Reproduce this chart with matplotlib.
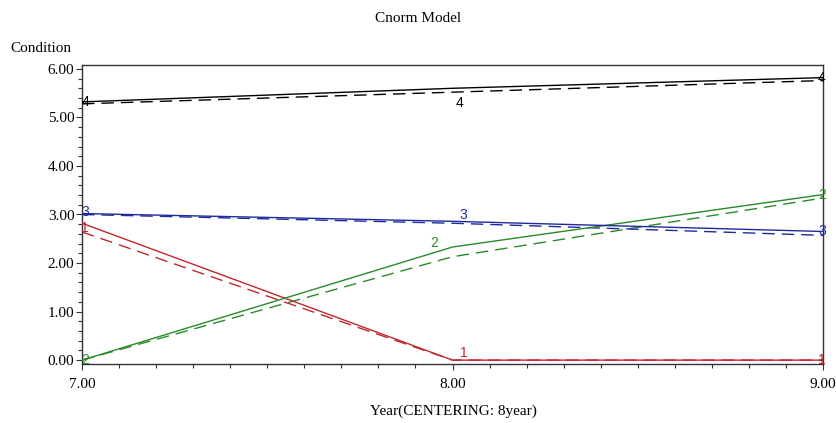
import matplotlib
matplotlib.use("Agg")
import matplotlib.pyplot as plt
from matplotlib.ticker import MultipleLocator, FormatStrFormatter

years = [7.0, 8.0, 9.0]
series_names = ["1", "2", "3", "4"]
observed = {
    "1": [2.82, 0.0, 0.0],
    "2": [0.0, 2.33, 3.41],
    "3": [3.02, 2.86, 2.65],
    "4": [5.32, 5.60, 5.82],
}
predicted = {
    "1": [2.64, 0.0, 0.0],
    "2": [0.0, 2.13, 3.34],
    "3": [3.00, 2.82, 2.57],
    "4": [5.28, 5.52, 5.76],
}
# label positions at the middle year
mid_label_x = {"1": 8.03, "2": 7.95, "3": 8.03, "4": 8.02}
mid_label_y = {"1": 0.15, "2": 2.42, "3": 3.00, "4": 5.30}
colors = {"1": "#c0272d", "2": "#2a8a2a", "3": "#1f2a9e", "4": "#000000"}

title = "Cnorm Model"
ylabel = "Condition"
xlabel = "Year(CENTERING: 8year)"

plt.rcParams['font.family'] = ['Liberation Serif', 'DejaVu Serif']

fig = plt.figure(figsize=(8.36, 4.23), dpi=100)
ax = fig.add_axes([82/836, 1-364/423, (823-82)/836, (364-65)/423])

# small vertical pixel nudges for the start labels
start_dy = {"1": -5, "2": 0, "3": 2, "4": 0}

for s in series_names:
    c = colors[s]
    ax.plot(years, observed[s], color=c, lw=1.0, zorder=3)
    ax.plot(years, predicted[s], color=c, lw=1.0, ls=(0, (9, 5)), zorder=2)
    lab_kw = dict(color=c, fontsize=10, family=['Liberation Sans Narrow', 'Liberation Sans', 'DejaVu Sans'],
                  ha='center', va='center', zorder=4, annotation_clip=False)
    ax.annotate(s, (years[0], observed[s][0]), xytext=(3, start_dy[s]), textcoords='offset pixels', **lab_kw)
    ax.annotate(s, (mid_label_x[s], mid_label_y[s]), **lab_kw)
    ax.annotate(s, (years[2], observed[s][2]), xytext=(-1, 0), textcoords='offset pixels', **lab_kw)

ax.set_xlim(7.0, 9.0)
ax.set_ylim(-0.08, 6.08)
ax.xaxis.set_major_locator(MultipleLocator(1.0))
ax.xaxis.set_minor_locator(MultipleLocator(0.1))
ax.yaxis.set_major_locator(MultipleLocator(1.0))
ax.yaxis.set_minor_locator(MultipleLocator(0.2))
ax.xaxis.set_major_formatter(FormatStrFormatter('%.2f'))
ax.yaxis.set_major_formatter(FormatStrFormatter('%.2f'))
ax.tick_params(which='major', direction='out', length=4, width=0.8, labelsize=11, color='#333333')
ax.tick_params(which='minor', direction='out', length=3, width=0.8, color='#333333')
ax.tick_params(axis='y', pad=1.5)
ax.tick_params(axis='x', pad=6)
for sp in ax.spines.values():
    sp.set_color('#333333')
    sp.set_linewidth(1.0)

fig.text(418/836, 1-18/423, title, ha='center', va='center', fontsize=11)
fig.text(10/836, 1-48/423, ylabel, ha='left', va='center', fontsize=11)
fig.text(453/836, 1-411/423, xlabel, ha='center', va='center', fontsize=11)

fig.savefig("out.png", dpi=100)
